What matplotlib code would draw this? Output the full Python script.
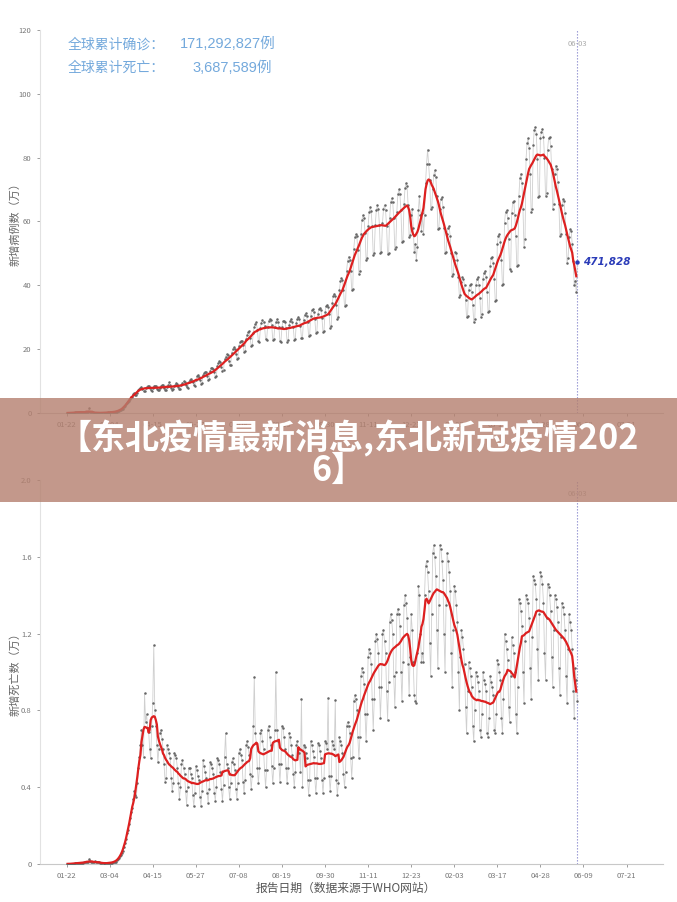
# -*- coding:utf8 -*-
import numpy as np
import pandas as pd
import matplotlib
matplotlib.use('Agg')
import matplotlib.pyplot as plt
from matplotlib.patches import Rectangle

plt.rcParams['font.family'] = ['Noto Sans CJK SC', 'DejaVu Sans']
plt.rcParams['axes.unicode_minus'] = False

start_date = '2020-01-22'
last_label = '06-03'

# 全球每日新增确诊（万），01-22起，每行一周
new_cases = [
    0.06, 0.04, 0.03, 0.07, 0.07, 0.10, 0.18,
    0.17, 0.20, 0.20, 0.25, 0.26, 0.28, 0.32,
    0.37, 0.37, 0.32, 0.34, 0.27, 0.31, 0.25,
    0.20, 1.50, 0.50, 0.27, 0.22, 0.20, 0.19,
    0.18, 0.10, 0.09, 0.10, 0.10, 0.05, 0.08,
    0.10, 0.11, 0.14, 0.19, 0.18, 0.21, 0.19,
    0.23, 0.26, 0.29, 0.38, 0.39, 0.40, 0.43,
    0.50, 0.65, 0.80, 1.10, 1.05, 1.40, 1.30,
    1.80, 2.20, 2.90, 3.30, 3.60, 3.90, 4.40,
    4.90, 5.20, 6.00, 6.30, 5.80, 5.80, 6.20,
    7.20, 7.50, 8.00, 8.30, 7.60, 6.80, 6.90,
    7.80, 8.30, 8.60, 8.50, 7.80, 7.20, 7.00,
    7.90, 8.40, 8.60, 8.50, 7.70, 7.30, 7.10,
    8.00, 8.60, 8.70, 8.80, 8.00, 7.30, 7.20,
    8.20, 8.70, 9.60, 8.70, 8.00, 7.20, 7.40,
    8.60, 8.90, 9.50, 9.00, 8.20, 7.50, 7.70,
    8.80, 9.30, 9.90, 9.60, 8.90, 8.10, 8.00,
    9.60, 10.3, 10.8, 10.2, 9.70, 8.80, 8.60,
    10.5, 11.5, 12.0, 11.3, 10.5, 9.20, 9.40,
    11.8, 12.6, 13.0, 12.8, 11.5, 10.3, 10.6,
    13.1, 14.0, 14.2, 13.7, 12.8, 11.4, 11.7,
    14.8, 15.8, 16.2, 15.9, 14.5, 13.2, 13.6,
    16.8, 17.7, 18.5, 18.1, 16.4, 15.0, 15.2,
    18.9, 20.0, 20.6, 20.2, 18.6, 17.0, 17.3,
    21.0, 22.3, 22.6, 22.5, 21.2, 19.0, 19.3,
    23.2, 24.5, 25.3, 25.8, 23.4, 21.0, 21.4,
    25.2, 26.9, 28.0, 28.4, 26.1, 22.5, 22.2,
    26.8, 28.3, 29.1, 28.6, 27.2, 23.2, 22.9,
    27.0, 28.9, 29.5, 29.0, 27.5, 23.0, 23.1,
    27.1, 28.5, 29.4, 28.6, 27.0, 22.6, 22.4,
    27.0, 28.7, 28.9, 28.4, 26.5, 22.3, 22.8,
    27.6, 28.9, 29.6, 28.6, 26.9, 23.0, 23.2,
    28.3, 29.4, 30.1, 29.4, 27.4, 23.5, 23.6,
    29.3, 30.8, 31.2, 30.5, 28.4, 24.0, 24.3,
    30.5, 32.2, 32.5, 31.8, 29.6, 25.2, 25.4,
    31.0, 32.6, 33.0, 32.2, 29.8, 25.5, 25.8,
    31.6, 33.4, 34.0, 33.2, 30.9, 26.5, 27.2,
    34.5, 36.7, 37.4, 36.8, 34.0, 29.5, 30.0,
    38.5, 41.2, 42.2, 41.8, 38.5, 33.5, 34.0,
    44.6, 47.6, 49.0, 48.0, 44.6, 38.5, 39.0,
    51.4, 55.0, 56.0, 55.4, 51.0, 43.6, 44.5,
    56.0, 60.5, 62.0, 61.2, 56.5, 48.0, 48.5,
    58.5, 63.0, 64.5, 63.2, 58.5, 49.4, 50.2,
    59.0, 63.5, 65.0, 63.8, 59.0, 50.0, 50.5,
    59.5, 63.8, 65.2, 63.5, 58.6, 49.8, 50.0,
    61.0, 66.0, 67.2, 66.0, 61.0, 51.5, 52.0,
    63.0, 68.5, 70.0, 68.5, 63.5, 53.5, 54.0,
    65.5, 70.6, 72.0, 71.0, 65.2, 55.0, 55.8,
    62.0, 64.0, 58.0, 50.5, 53.0, 48.0, 52.0,
    63.5, 68.0, 62.0, 57.0, 62.5, 56.0, 62.0,
    72.0, 78.0, 82.5, 78.0, 73.0, 64.0, 64.5,
    70.0, 74.5, 76.0, 74.0, 68.0, 57.5, 58.0,
    64.0, 67.0, 67.5, 64.5, 58.0, 50.0, 50.5,
    56.0, 58.0, 58.5, 55.5, 50.0, 43.0, 43.5,
    48.0, 50.5, 50.0, 48.0, 42.5, 36.5, 37.0,
    41.0, 42.5, 42.0, 40.0, 35.5, 30.0, 30.5,
    38.5, 40.0, 40.5, 38.0, 34.0, 28.5, 29.5,
    40.0, 42.0, 42.5, 40.0, 36.0, 30.0, 31.0,
    42.0, 44.0, 44.5, 42.5, 38.0, 31.5, 32.0,
    46.0, 48.5, 49.0, 47.0, 42.0, 35.0, 35.5,
    53.0, 55.5, 56.0, 53.5, 48.0, 40.0, 40.5,
    59.5, 63.0, 63.5, 61.0, 54.5, 45.0, 44.5,
    62.5, 66.0, 66.5, 62.0, 55.5, 46.0, 46.5,
    68.0, 73.5, 75.0, 72.0, 64.0, 52.0, 54.5,
    79.5, 84.5, 86.0, 83.0, 75.0, 63.0, 64.0,
    84.0, 88.5, 89.5, 87.5, 79.5, 67.5, 68.0,
    86.0, 88.0, 89.0, 86.5, 80.0, 68.0, 69.0,
    82.5, 86.0, 86.5, 83.5, 76.5, 64.0, 65.5,
    75.0, 77.5, 76.5, 72.5, 65.5, 55.5, 56.0,
    65.0, 67.0, 66.5, 62.5, 56.0, 47.0, 48.5,
    55.0, 57.5, 57.0, 53.0, 47.5, 40.0, 41.5,
    38.0, 47.1828,
]

# 全球每日新增死亡（万）
new_deaths = [
    0.001, 0.001, 0.001, 0.002, 0.002, 0.002, 0.003,
    0.003, 0.004, 0.004, 0.005, 0.005, 0.006, 0.007,
    0.007, 0.007, 0.008, 0.009, 0.009, 0.010, 0.011,
    0.010, 0.025, 0.014, 0.012, 0.011, 0.010, 0.011,
    0.014, 0.012, 0.011, 0.011, 0.009, 0.007, 0.008,
    0.005, 0.003, 0.004, 0.005, 0.006, 0.005, 0.006,
    0.006, 0.007, 0.008, 0.011, 0.011, 0.012, 0.012,
    0.020, 0.025, 0.030, 0.040, 0.050, 0.060, 0.070,
    0.090, 0.110, 0.130, 0.160, 0.180, 0.210, 0.240,
    0.270, 0.290, 0.340, 0.380, 0.360, 0.350, 0.420,
    0.500, 0.560, 0.620, 0.700, 0.620, 0.560, 0.890,
    0.740, 0.780, 0.710, 0.690, 0.600, 0.550, 0.720,
    0.840, 1.140, 0.800, 0.720, 0.620, 0.530, 0.600,
    0.680, 0.700, 0.650, 0.600, 0.520, 0.430, 0.450,
    0.620, 0.600, 0.580, 0.550, 0.450, 0.380, 0.420,
    0.580, 0.570, 0.550, 0.500, 0.420, 0.340, 0.400,
    0.520, 0.540, 0.500, 0.470, 0.380, 0.310, 0.400,
    0.500, 0.500, 0.470, 0.450, 0.360, 0.300, 0.370,
    0.510, 0.490, 0.460, 0.440, 0.350, 0.300, 0.380,
    0.540, 0.510, 0.480, 0.450, 0.370, 0.320, 0.390,
    0.530, 0.520, 0.500, 0.470, 0.370, 0.330, 0.400,
    0.550, 0.540, 0.520, 0.480, 0.390, 0.330, 0.410,
    0.560, 0.680, 0.520, 0.500, 0.400, 0.340, 0.420,
    0.530, 0.550, 0.520, 0.490, 0.390, 0.340, 0.420,
    0.580, 0.600, 0.570, 0.540, 0.430, 0.370, 0.440,
    0.620, 0.640, 0.610, 0.570, 0.470, 0.390, 0.460,
    0.720, 0.975, 0.680, 0.630, 0.500, 0.420, 0.500,
    0.680, 0.700, 0.640, 0.600, 0.490, 0.400, 0.490,
    0.700, 0.720, 0.660, 0.620, 0.510, 0.420, 0.500,
    0.700, 1.000, 0.700, 0.640, 0.520, 0.430, 0.520,
    0.720, 0.710, 0.660, 0.600, 0.500, 0.420, 0.500,
    0.680, 0.660, 0.620, 0.570, 0.470, 0.400, 0.480,
    0.620, 0.640, 0.600, 0.580, 0.480, 0.860, 0.400,
    0.620, 0.610, 0.580, 0.550, 0.440, 0.360, 0.440,
    0.640, 0.620, 0.590, 0.560, 0.450, 0.370, 0.450,
    0.630, 0.620, 0.590, 0.550, 0.440, 0.370, 0.450,
    0.640, 0.630, 0.600, 0.866, 0.460, 0.380, 0.460,
    0.640, 0.620, 0.600, 0.854, 0.440, 0.360, 0.420,
    0.660, 0.640, 0.620, 0.580, 0.470, 0.400, 0.480,
    0.720, 0.740, 0.720, 0.680, 0.550, 0.450, 0.560,
    0.850, 0.880, 0.860, 0.800, 0.660, 0.550, 0.660,
    0.980, 1.020, 1.000, 0.940, 0.780, 0.640, 0.780,
    1.080, 1.120, 1.100, 1.040, 0.860, 0.700, 0.860,
    1.160, 1.200, 1.170, 1.100, 0.920, 0.760, 0.920,
    1.200, 1.220, 1.160, 1.100, 0.900, 0.750, 0.950,
    1.260, 1.300, 1.270, 1.200, 0.980, 0.820, 1.000,
    1.300, 1.330, 1.300, 1.240, 1.000, 0.850, 1.050,
    1.350, 1.400, 1.360, 1.280, 1.040, 0.880, 1.080,
    1.300, 1.220, 1.050, 0.880, 0.850, 0.840, 1.100,
    1.450, 1.400, 1.200, 1.050, 1.100, 1.050, 1.400,
    1.550, 1.580, 1.520, 1.420, 1.150, 0.980, 1.300,
    1.620, 1.660, 1.600, 1.500, 1.220, 1.020, 1.350,
    1.660, 1.640, 1.580, 1.480, 1.200, 1.000, 1.350,
    1.620, 1.580, 1.520, 1.420, 1.100, 0.920, 1.220,
    1.450, 1.420, 1.350, 1.260, 1.000, 0.800, 1.080,
    1.220, 1.180, 1.120, 1.040, 0.820, 0.680, 0.900,
    1.050, 1.020, 0.980, 0.920, 0.720, 0.640, 0.800,
    1.000, 0.980, 0.950, 0.900, 0.700, 0.660, 0.780,
    1.000, 0.960, 0.940, 0.900, 0.680, 0.660, 0.760,
    0.980, 0.950, 0.920, 0.880, 0.700, 0.680, 0.780,
    1.060, 1.040, 1.000, 0.960, 0.760, 0.680, 0.860,
    1.200, 1.160, 1.120, 1.060, 0.820, 0.740, 0.980,
    1.180, 1.140, 1.100, 1.000, 0.780, 0.680, 0.920,
    1.380, 1.360, 1.320, 1.240, 1.000, 0.840, 1.160,
    1.400, 1.380, 1.360, 1.280, 1.020, 0.860, 1.180,
    1.500, 1.480, 1.460, 1.380, 1.120, 0.960, 1.300,
    1.520, 1.500, 1.460, 1.360, 1.100, 0.960, 1.280,
    1.460, 1.440, 1.400, 1.320, 1.080, 0.920, 1.220,
    1.400, 1.380, 1.340, 1.260, 1.020, 0.880, 1.180,
    1.360, 1.340, 1.300, 1.220, 0.980, 0.840, 1.120,
    1.300, 1.260, 1.220, 1.120, 0.900, 0.760, 1.020,
    0.960, 0.850,
]

x_tick_labels = ['01-22', '03-04', '04-15', '05-27', '07-08', '08-19', '09-30',
                 '11-11', '12-23', '02-03', '03-17', '04-28', '06-09', '07-21']
cases_yticks = [0, 20, 40, 60, 80, 100, 120]
deaths_yticks = [0, 0.4, 0.8, 1.2, 1.6, 2.0]
deaths_ylabels = ['0', '0.4', '0.8', '1.2', '1.6', '2.0']

total_cases_text = '171,292,827例'
total_deaths_text = '3,687,589例'
last_cases_text = '471,828'

dates = pd.date_range(start_date, periods=len(new_cases), freq='D')
tick_dates = pd.date_range(start_date, periods=len(x_tick_labels), freq='42D')

# 7日平均
cases_avg = pd.Series(new_cases).rolling(7, center=True, min_periods=5).mean()
deaths_avg = pd.Series(new_deaths).rolling(7, center=True, min_periods=5).mean()

fig = plt.figure(figsize=(6.77, 9.02), dpi=100)
ax1 = fig.add_axes([0.059, 0.542, 0.921, 0.425])
ax2 = fig.add_axes([0.059, 0.042, 0.921, 0.426])

x_left = pd.Timestamp(start_date) - pd.Timedelta(days=26)
x_right = pd.Timestamp(start_date) + pd.Timedelta(days=582)


def style_ax(ax):
    ax.spines['top'].set_visible(False)
    ax.spines['right'].set_visible(False)
    ax.spines['left'].set_color('#e2e2e2')
    ax.spines['bottom'].set_color('#c8c8c8')
    ax.spines['left'].set_linewidth(0.8)
    ax.spines['bottom'].set_linewidth(0.8)
    ax.tick_params(axis='both', labelsize=5.5, colors='#777777', length=2.5, width=0.5)
    ax.set_xticks(tick_dates)
    ax.set_xticklabels(x_tick_labels)
    ax.set_xlim(x_left, x_right)
    ax.axvline(dates[-1], color='#8f8fd0', linestyle=(0, (1.2, 1.5)), linewidth=0.8, zorder=1)
    ax.text(dates[-1], 0.962, last_label, transform=ax.get_xaxis_transform(),
            ha='center', va='center', fontsize=5.5, color='#aaaaaa', style='italic', zorder=5)


# 上图：新增病例
ax1.plot(dates, new_cases, color='#cfcfcf', linewidth=0.6, zorder=2)
ax1.plot(dates, new_cases, linestyle='none', marker='o', markersize=1.8,
         color='#666666', markeredgewidth=0, zorder=3)
ax1.plot(dates, cases_avg, color='#dd2020', linewidth=1.6, zorder=4)
ax1.set_ylim(0, 120)
ax1.set_yticks(cases_yticks)
style_ax(ax1)
ax1.set_ylabel('新增病例数（万）', fontsize=8, color='#666666')
ax1.yaxis.set_label_coords(-0.031, 0.5)
ax1.plot(dates[-1], new_cases[-1], marker='o', markersize=2.2, color='#2a3bb8', zorder=6)
ax1.annotate(last_cases_text, (dates[-1], new_cases[-1]), xytext=(4, 0),
             textcoords='offset points', ha='left', va='center', fontsize=7.5,
             color='#2a3bb8', fontweight='bold', style='italic', family=['DejaVu Sans'])

# 下图：新增死亡
ax2.plot(dates, new_deaths, color='#cfcfcf', linewidth=0.6, zorder=2)
ax2.plot(dates, new_deaths, linestyle='none', marker='o', markersize=1.8,
         color='#666666', markeredgewidth=0, zorder=3)
ax2.plot(dates, deaths_avg, color='#dd2020', linewidth=1.6, zorder=4)
ax2.set_ylim(0, 2.0)
ax2.set_yticks(deaths_yticks)
ax2.set_yticklabels(deaths_ylabels)
style_ax(ax2)
ax2.set_ylabel('新增死亡数（万）', fontsize=8, color='#666666')
ax2.yaxis.set_label_coords(-0.031, 0.5)
fig.text(0.511, 0.0155, '报告日期（数据来源于WHO网站）', ha='center', va='center',
         fontsize=8.5, color='#555555')

# 左上角累计数字
blue = '#74a9dc'
num_font = ['Liberation Sans', 'Noto Sans CJK SC']
fig.text(0.1, 0.951, '全球累计确诊：', fontsize=10, color=blue, va='center')
fig.text(0.266, 0.951, total_cases_text, fontsize=10.5, color=blue, va='center', family=num_font)
fig.text(0.1, 0.9246, '全球累计死亡：', fontsize=10, color=blue, va='center')
fig.text(0.284, 0.9246, total_deaths_text, fontsize=10.5, color=blue, va='center', family=num_font)

# 标题横幅
banner = Rectangle((0, 0.4435), 1, 0.1153, transform=fig.transFigure,
                   facecolor='#b47f6e', alpha=0.8, edgecolor='none', zorder=10)
fig.add_artist(banner)
fig.text(0.515, 0.5144, '【东北疫情最新消息,东北新冠疫情202', ha='center', va='center',
         fontsize=24.5, color='white', fontweight='bold', zorder=11)
fig.text(0.5, 0.4785, '6】', ha='center', va='center',
         fontsize=24.5, color='white', fontweight='bold', zorder=11)

fig.savefig('out.png', dpi=100, facecolor='white')
